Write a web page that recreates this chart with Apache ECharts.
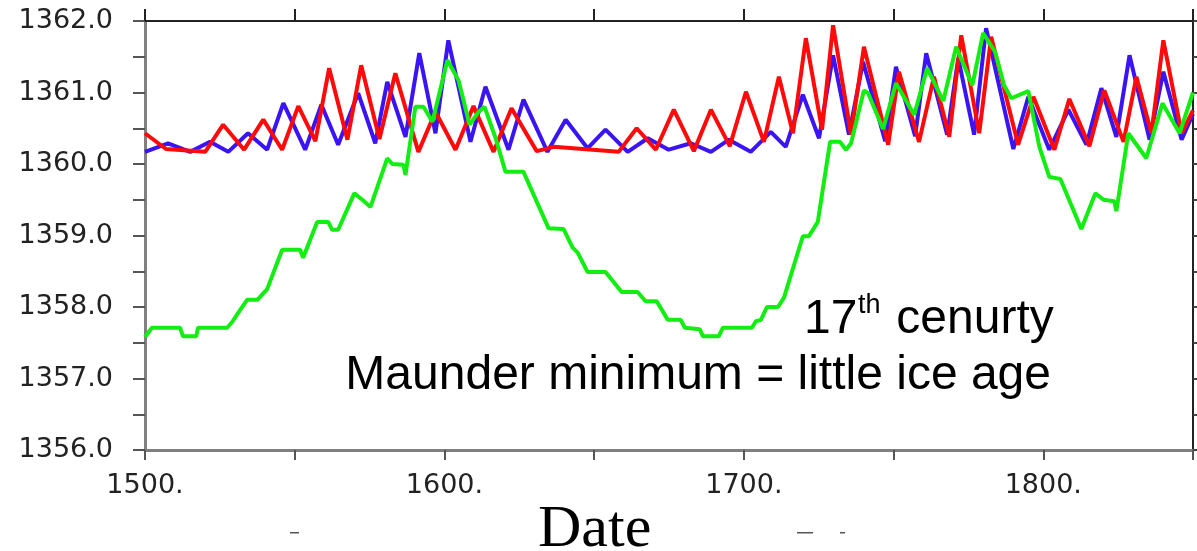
<!DOCTYPE html>
<html>
<head>
<meta charset="utf-8">
<script src="https://cdn.jsdelivr.net/npm/echarts@6/dist/echarts.min.js"></script>
<style>
  html, body { margin: 0; padding: 0; background: #fff; }
  #chart { width: 1197px; height: 551px; }
</style>
</head>
<body>
<div id="chart"></div>
<script>
// 蓝线 (years / W m-2)
var blueYears = [1500.0, 1507.7, 1515.1, 1521.7, 1527.8, 1534.4, 1540.8, 1546.2, 1553.5, 1558.9,
  1564.5, 1571.2, 1576.9, 1580.9, 1587.0, 1591.6, 1597.0, 1601.3, 1608.7, 1613.7,
  1621.4, 1626.4, 1634.4, 1640.5, 1647.8, 1653.8, 1661.2, 1667.9, 1674.9, 1682.3,
  1689.0, 1695.0, 1702.3, 1709.0, 1714.0, 1719.7, 1725.1, 1729.8, 1735.1, 1739.8,
  1747.2, 1750.8, 1757.2, 1760.9, 1767.9, 1771.6, 1776.9, 1780.9, 1790.0, 1795.0,
  1802.0, 1808.4, 1814.4, 1819.4, 1824.4, 1828.8, 1835.5, 1840.1, 1846.2, 1850.0];
var blueValues = [1360.17, 1360.29, 1360.17, 1360.31, 1360.17, 1360.43, 1360.20, 1360.85, 1360.20, 1360.83,
  1360.27, 1360.99, 1360.29, 1361.15, 1360.38, 1361.55, 1360.43, 1361.73, 1360.31, 1361.08,
  1360.20, 1360.90, 1360.17, 1360.62, 1360.22, 1360.48, 1360.17, 1360.36, 1360.20, 1360.29,
  1360.17, 1360.34, 1360.17, 1360.45, 1360.24, 1360.97, 1360.36, 1361.52, 1360.41, 1361.43,
  1360.32, 1361.36, 1360.39, 1361.55, 1360.41, 1361.48, 1360.41, 1361.90, 1360.21, 1360.94,
  1360.20, 1360.76, 1360.27, 1361.06, 1360.38, 1361.52, 1360.34, 1361.29, 1360.34, 1360.70];

// 红线
var redYears = [1500.0, 1507.0, 1520.1, 1526.1, 1533.1, 1539.5, 1545.8, 1551.2, 1556.9, 1561.5,
  1567.6, 1572.2, 1578.3, 1583.6, 1591.3, 1597.0, 1603.7, 1609.7, 1616.4, 1622.4,
  1630.8, 1636.5, 1658.2, 1664.2, 1670.6, 1676.6, 1683.3, 1689.0, 1695.3, 1700.7,
  1706.7, 1711.7, 1716.4, 1720.7, 1726.1, 1729.8, 1735.8, 1740.1, 1748.2, 1751.8,
  1758.5, 1763.5, 1768.6, 1772.6, 1778.6, 1782.6, 1791.6, 1796.7, 1803.7, 1808.7,
  1815.4, 1820.4, 1826.8, 1831.1, 1836.1, 1840.1, 1846.2, 1850.0];
var redValues = [1360.43, 1360.21, 1360.17, 1360.55, 1360.20, 1360.62, 1360.20, 1360.81, 1360.32, 1361.34,
  1360.34, 1361.38, 1360.35, 1361.27, 1360.17, 1360.73, 1360.20, 1360.81, 1360.17, 1360.78,
  1360.18, 1360.24, 1360.17, 1360.50, 1360.20, 1360.76, 1360.18, 1360.76, 1360.25, 1361.01,
  1360.31, 1361.22, 1360.43, 1361.76, 1360.48, 1361.94, 1360.41, 1361.64, 1360.27, 1361.29,
  1360.31, 1361.22, 1360.38, 1361.80, 1360.43, 1361.78, 1360.27, 1360.94, 1360.20, 1360.91,
  1360.25, 1361.03, 1360.31, 1361.22, 1360.43, 1361.73, 1360.43, 1360.75];

// 绿线
var greenYears = [1500.0, 1502.3, 1511.7, 1512.7, 1517.1, 1517.7, 1527.4, 1529.1, 1531.8, 1534.1,
  1537.5, 1540.8, 1545.8, 1551.8, 1552.8, 1557.5, 1561.2, 1562.5, 1564.5, 1569.9,
  1572.6, 1575.3, 1580.9, 1582.6, 1586.3, 1587.0, 1590.3, 1593.0, 1596.0, 1601.0,
  1604.7, 1608.4, 1611.4, 1613.4, 1617.1, 1620.4, 1626.4, 1634.8, 1639.8, 1642.8,
  1644.5, 1647.8, 1653.8, 1659.2, 1664.5, 1667.2, 1670.9, 1674.6, 1678.9, 1680.3,
  1685.3, 1686.3, 1691.6, 1693.0, 1702.7, 1704.0, 1705.7, 1707.7, 1711.4, 1713.4,
  1719.7, 1721.7, 1724.7, 1728.8, 1732.1, 1734.1, 1735.8, 1740.1, 1741.5, 1746.5,
  1750.8, 1756.9, 1761.2, 1766.6, 1770.9, 1776.3, 1779.9, 1783.9, 1786.9, 1789.3,
  1795.0, 1798.7, 1802.0, 1805.7, 1812.7, 1817.4, 1820.1, 1823.7, 1824.4, 1828.4,
  1834.4, 1839.8, 1845.5, 1850.0];
var greenValues = [1357.58, 1357.71, 1357.71, 1357.59, 1357.59, 1357.71, 1357.71, 1357.79, 1357.96, 1358.10,
  1358.10, 1358.25, 1358.80, 1358.80, 1358.69, 1359.19, 1359.19, 1359.08, 1359.08, 1359.59,
  1359.50, 1359.40, 1360.08, 1360.00, 1359.99, 1359.85, 1360.80, 1360.80, 1360.59, 1361.45,
  1361.17, 1360.55, 1360.73, 1360.80, 1360.36, 1359.89, 1359.89, 1359.10, 1359.09, 1358.83,
  1358.76, 1358.49, 1358.49, 1358.21, 1358.21, 1358.08, 1358.08, 1357.82, 1357.82, 1357.71,
  1357.69, 1357.59, 1357.59, 1357.71, 1357.71, 1357.80, 1357.82, 1358.00, 1358.00, 1358.13,
  1358.99, 1358.99, 1359.19, 1360.31, 1360.31, 1360.20, 1360.29, 1361.03, 1360.99, 1360.49,
  1361.13, 1360.69, 1361.34, 1360.88, 1361.64, 1361.10, 1361.83, 1361.57, 1361.10, 1360.92,
  1361.02, 1360.24, 1359.82, 1359.79, 1359.09, 1359.59, 1359.50, 1359.48, 1359.34, 1360.43,
  1360.08, 1360.85, 1360.43, 1361.00];

var yTicks = [1356, 1357, 1358, 1359, 1360, 1361, 1362];
var xLabelYears = [1500, 1600, 1700, 1800];

function zip(xs, ys) {
  var out = [];
  for (var i = 0; i < xs.length; i++) out.push([xs[i], ys[i]]);
  return out;
}

var chart = echarts.init(document.getElementById('chart'));

var option = {
  animation: false,
  backgroundColor: '#fff',
  grid: { left: 145, right: 4, top: 21, bottom: 101, containLabel: false },
  xAxis: [{
    type: 'value', position: 'bottom', min: 1500, max: 1850, interval: 50,
    axisLine: { lineStyle: { color: '#808080', width: 3 } },
    axisTick: { inside: false, length: 10, lineStyle: { color: '#555', width: 2 } },
    axisLabel: {
      margin: 22, color: '#222', fontFamily: 'DejaVu Sans', fontSize: 27,
      formatter: function (v) { return xLabelYears.indexOf(v) >= 0 ? v + '.' : ''; }
    },
    splitLine: { show: false }
  }, {
    type: 'value', position: 'top', min: 1500, max: 1850, interval: 50,
    axisLine: { lineStyle: { color: '#222', width: 2 } },
    axisTick: { inside: false, length: 12, lineStyle: { color: '#222', width: 2 } },
    axisLabel: { show: false },
    splitLine: { show: false }
  }],
  yAxis: [{
    type: 'value', position: 'left', min: 1356, max: 1362, interval: 1,
    axisLine: { lineStyle: { color: '#808080', width: 3 } },
    axisTick: { inside: false, length: 12, lineStyle: { color: '#555', width: 2 } },
    minorTick: { show: true, splitNumber: 2, length: 12, lineStyle: { color: '#555', width: 2 } },
    axisLabel: {
      margin: 32, color: '#222', fontFamily: 'DejaVu Sans', fontSize: 27,
      formatter: function (v) { return yTicks.indexOf(v) >= 0 ? v.toFixed(1) : ''; }
    },
    splitLine: { show: false }
  }, {
    type: 'value', position: 'right', min: 1356, max: 1362, interval: 0.5,
    axisLine: { lineStyle: { color: '#222', width: 2 } },
    axisTick: { inside: false, length: 5, lineStyle: { color: '#444', width: 2 } },
    axisLabel: { show: false },
    splitLine: { show: false }
  }],
  series: [{
    type: 'line', xAxisIndex: 0, yAxisIndex: 0, showSymbol: false,
    data: zip(blueYears, blueValues),
    lineStyle: { color: '#3a14f2', width: 4 }
  }, {
    type: 'line', xAxisIndex: 0, yAxisIndex: 0, showSymbol: false,
    data: zip(redYears, redValues),
    lineStyle: { color: '#ff0a0a', width: 4 }
  }, {
    type: 'line', xAxisIndex: 0, yAxisIndex: 0, showSymbol: false,
    data: zip(greenYears, greenValues),
    lineStyle: { color: '#12ee12', width: 4 }
  }],
  graphic: [
    { type: 'text', left: 804, top: 296, style: { text: '17', font: '48px "Liberation Sans", Arial', fill: '#000' } },
    { type: 'text', left: 858, top: 292, style: { text: 'th', font: '27px "Liberation Sans", Arial', fill: '#000' } },
    { type: 'text', left: 883, top: 296, style: { text: ' cenurty', font: '48px "Liberation Sans", Arial', fill: '#000' } },
    { type: 'text', right: 146, top: 352, style: { text: 'Maunder minimum = little ice age', font: '48px "Liberation Sans", Arial', fill: '#000' } },
    { type: 'text', left: 538, top: 500, style: { text: 'Date', font: '60px "Liberation Serif", "Times New Roman", serif', fill: '#000' } },
    { type: 'rect', shape: { x: 290, y: 532, width: 9, height: 1.5 }, style: { fill: '#555' } },
    { type: 'rect', shape: { x: 797, y: 532, width: 16, height: 1.5 }, style: { fill: '#555' } },
    { type: 'rect', shape: { x: 840, y: 532, width: 5, height: 1.5 }, style: { fill: '#555' } }
  ]
};

chart.setOption(option);
</script>
</body>
</html>
